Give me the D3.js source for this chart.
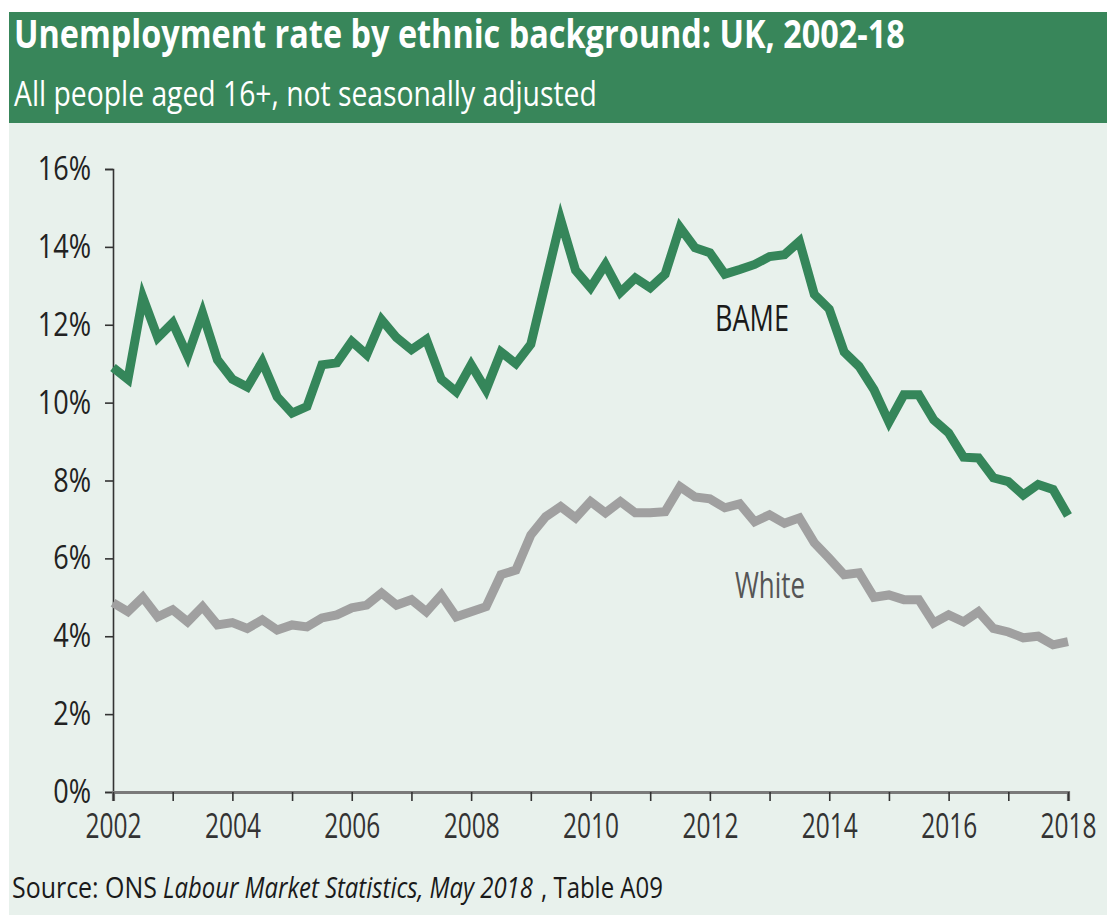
<!DOCTYPE html>
<html>
<head>
<meta charset="utf-8">
<script src="https://cdn.jsdelivr.net/npm/d3@7"></script>
<style>
  html, body { margin: 0; padding: 0; background: #ffffff; }
  svg { display: block; font-family: "Open Sans", "Noto Sans", sans-serif; }
</style>
</head>
<body>
<svg id="chart" width="1107" height="915"></svg>
<script>
// Quarterly unemployment rate (%), 2002 Q1 to 2018 Q1
const startYear = 2002;
const bame = [
  10.9, 10.6, 12.7, 11.67, 12.05, 11.2, 12.3, 11.1,
  10.6, 10.4, 11.05, 10.15, 9.73, 9.9, 10.97, 11.02,
  11.57, 11.23, 12.13, 11.67, 11.36, 11.62, 10.6, 10.28,
  10.97, 10.33, 11.3, 11.0, 11.5, 13.1, 14.7, 13.4,
  12.95, 13.55, 12.83, 13.2, 12.95, 13.3, 14.5, 13.98,
  13.85, 13.3, 13.42, 13.55, 13.75, 13.8, 14.14, 12.78,
  12.4, 11.3, 10.93, 10.33, 9.5, 10.2, 10.2, 9.56,
  9.22, 8.6, 8.58, 8.07, 7.97, 7.63, 7.9, 7.77,
  7.1
];
const white = [
  4.86, 4.63, 5.0, 4.5, 4.68, 4.37, 4.76, 4.29,
  4.35, 4.2, 4.42, 4.16, 4.29, 4.24, 4.47, 4.55,
  4.73, 4.8, 5.11, 4.8, 4.94, 4.63, 5.06, 4.5,
  4.63, 4.76, 5.58, 5.7, 6.6, 7.07, 7.33, 7.04,
  7.46, 7.17, 7.46, 7.17, 7.17, 7.2, 7.84, 7.58,
  7.53, 7.3, 7.4, 6.94, 7.12, 6.9, 7.04, 6.4,
  6.0, 5.58, 5.63, 5.0, 5.06, 4.94, 4.94, 4.34,
  4.55, 4.37, 4.63, 4.2, 4.11, 3.96, 4.0, 3.78,
  3.86
];
const yTicks = [0, 2, 4, 6, 8, 10, 12, 14, 16];
const xLabelYears = [2002, 2004, 2006, 2008, 2010, 2012, 2014, 2016, 2018];
const titleText = "Unemployment rate by ethnic background: UK, 2002-18";
const subtitleText = "All people aged 16+, not seasonally adjusted";
const sourceParts = [
  { text: "Source: ONS", italic: false },
  { text: "Labour Market Statistics, May 2018", italic: true },
  { text: ", Table A09", italic: false }
];

const svg = d3.select("#chart");

// Place a text at (px, py) and squeeze it horizontally to the given width
function placeFitted(parent, px, py, width, str, attrs) {
  const g = parent.append("g");
  const t = g.append("text").attr("x", 0).attr("y", 0).text(str);
  Object.entries(attrs).forEach(([k, v]) => t.attr(k, v));
  const w = t.node().getComputedTextLength();
  g.attr("transform", `translate(${px},${py}) scale(${width / w},1)`);
  return t;
}
// Squeeze each text in a selection by a constant factor around its anchor
function condense(sel, factor) {
  sel.attr("transform", function () {
    const xx = +d3.select(this).attr("x") || 0;
    return `translate(${xx * (1 - factor)},0) scale(${factor},1)`;
  });
}

// Backgrounds
svg.append("rect").attr("x", 9).attr("y", 123).attr("width", 1098).attr("height", 792).attr("fill", "#e8f1ec");
svg.append("rect").attr("x", 9).attr("y", 12).attr("width", 1098).attr("height", 111).attr("fill", "#38865a");

// Header texts
placeFitted(svg, 14, 48, 891, titleText,
  { "font-size": 39, "font-weight": 700, fill: "#ffffff" });
placeFitted(svg, 14, 106, 583, subtitleText,
  { "font-size": 35, "font-weight": 400, fill: "#ffffff" });

// Scales
const x = d3.scaleLinear().domain([2002, 2018]).range([113, 1068]);
const y = d3.scaleLinear().domain([0, 16]).range([792, 169]);

// Y axis
const yAxis = svg.append("g").attr("transform", `translate(${x(2002)},0)`)
  .call(d3.axisLeft(y).tickValues(yTicks).tickFormat(d => d + "%").tickSize(8).tickPadding(14));
yAxis.select(".domain").attr("stroke", "#333").attr("stroke-width", 1.6);
yAxis.selectAll(".tick line").attr("stroke", "#333").attr("stroke-width", 1.6);
yAxis.selectAll(".tick text")
  .attr("font-size", 33).attr("fill", "#222").attr("font-family", "Open Sans")
  .call(condense, 0.82);

// X axis
const xAxis = svg.append("g").attr("transform", `translate(0,${y(0)})`)
  .call(d3.axisBottom(x).tickValues(d3.range(2002, 2019)).tickSize(9).tickPadding(12)
    .tickFormat(d => xLabelYears.includes(d) ? String(d) : ""));
xAxis.select(".domain").attr("stroke", "#7a7a7a").attr("stroke-width", 3.2);
xAxis.selectAll(".tick line").attr("stroke", "#333").attr("stroke-width", 1.6);
xAxis.selectAll(".tick text")
  .attr("font-size", 35).attr("fill", "#333").attr("font-family", "Open Sans")
  .attr("dy", "0.71em")
  .call(condense, 0.7);

// Lines
const line = d3.line()
  .x((d, i) => x(startYear + i / 4))
  .y(d => y(d))
  .curve(d3.curveLinear);

svg.append("path").datum(white)
  .attr("d", line).attr("fill", "none")
  .attr("stroke", "#a0a0a0").attr("stroke-width", 9)
  .attr("stroke-linejoin", "miter").attr("stroke-linecap", "butt");

svg.append("path").datum(bame)
  .attr("d", line).attr("fill", "none")
  .attr("stroke", "#35865a").attr("stroke-width", 9)
  .attr("stroke-linejoin", "miter").attr("stroke-linecap", "butt");

// Series labels
placeFitted(svg, 715, 331, 74, "BAME", { "font-size": 36, fill: "#1a1a1a" });
placeFitted(svg, 735, 598, 70, "White", { "font-size": 36, fill: "#555555" });

// Source note, laid out piece by piece
const sourceSpans = [[12, 157], [163, 533], [541, 663]];
sourceParts.forEach((p, i) => {
  const [x0, x1] = sourceSpans[i];
  placeFitted(svg, x0, 898, x1 - x0, p.text, {
    "font-size": 30, fill: "#1a1a1a", "font-style": p.italic ? "italic" : "normal"
  });
});
</script>
</body>
</html>
